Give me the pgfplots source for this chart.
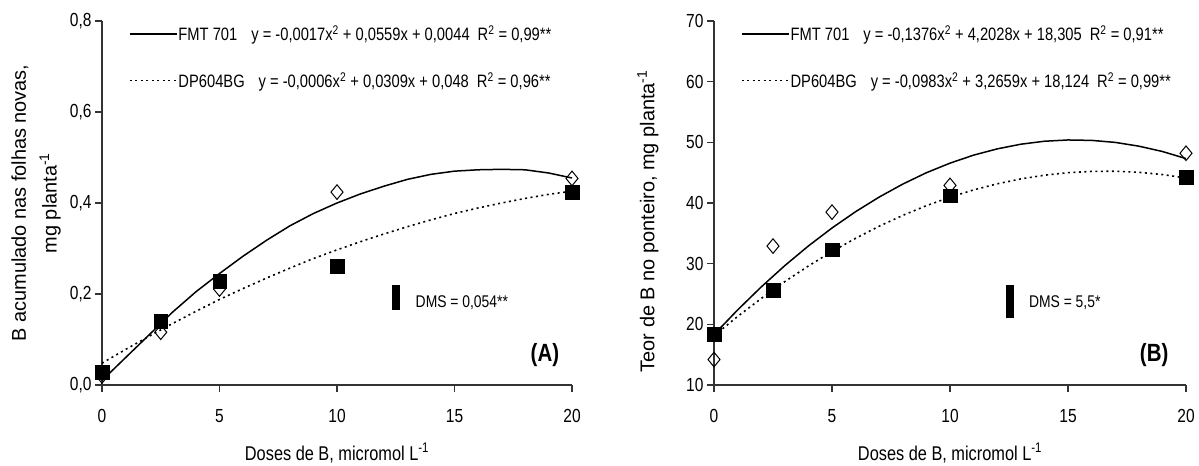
\documentclass[border=0pt]{standalone}
\usepackage{fontspec}
\setmainfont[FakeStretch=0.82]{Liberation Sans}
\newfontfamily\widesans{Liberation Sans}
\usepackage{pgfplots}
\pgfplotsset{compat=1.18}

% shared look of both panels
\pgfplotsset{
  panel/.style={
    scale only axis, anchor=south west, clip=false,
    xmin=0, xmax=20, xtick={0,5,...,20},
    axis x line*=bottom, axis y line*=left,
    axis line style={-, line width=1.3bp, black!80},
    tick style={line width=1.3bp, black!80},
    tick align=outside, major tick length=7bp, tick pos=left,
    tick label style={font=\fontsize{19}{22}\selectfont},
    xticklabel style={yshift=-14bp},
    label style={font=\fontsize{20}{30}\selectfont},
    ylabel style={font=\widesans\fontsize{20}{31}\selectfont},
    /pgf/number format/assume math mode=true,
    xlabel={Doses de B, micromol L\textsuperscript{-1}},
    xlabel style={at={(axis description cs:0.5,-0.15)}, anchor=north},
    legend style={draw=none, fill=none, at={(0.057,0.99)}, anchor=north west,
      inner sep=0pt, font=\fontsize{18}{20}\selectfont, row sep=28bp,
      nodes={inner sep=1bp, anchor=west}},
    legend cell align=left,
    legend image code/.code={\draw[##1, line width=1.5bp] (0bp,0bp) -- (47bp,0bp);},
  },
  fmtline/.style={black, line width=1.5bp},
  dpline/.style={black, line width=1.6bp, dash pattern=on 2bp off 3.5bp},
  fmtmark/.style={only marks, mark=diamond, mark size=7.3bp,
    mark options={fill=white, draw=black, line width=1bp, xscale=1.1}},
  dpmark/.style={only marks, mark=square*, mark size=6.8bp,
    mark options={fill=black, draw=black}},
}

\begin{document}
\begin{tikzpicture}
\useasboundingbox (0,0) rectangle (1199bp,466bp);

% ---------- (A) ----------
\begin{axis}[panel, at={(102bp,81bp)}, width=470bp, height=364bp,
    ymin=0, ymax=0.8, ytick={0,0.2,...,0.8},
    yticklabel style={/pgf/number format/.cd, fixed, fixed zerofill, precision=1, use comma},
    ylabel={B acumulado nas folhas novas,\\ mg planta\textsuperscript{-1}},
    ylabel style={align=center, at={(axis description cs:-0.08,0.5)}, anchor=south}]
\addplot[fmtline] coordinates {(0,0.010)(1,0.060)(2,0.110)(3,0.160)(4,0.205)(5,0.245)
  (6,0.283)(7,0.318)(8,0.350)(9,0.377)(10,0.400)(11,0.420)(12,0.437)(13,0.452)
  (14,0.463)(15,0.470)(16,0.473)(17,0.474)(18,0.473)(19,0.466)(20,0.455)};
\addlegendentry{FMT 701\hspace{14bp}y = -0,0017x\textsuperscript{2} + 0,0559x + 0,0044\hspace{8bp}R\textsuperscript{2} = 0,99**}
\addplot[dpline] coordinates {(0,0.048)(1,0.078)(2,0.107)(3,0.135)(4,0.162)(5,0.188)
  (6,0.212)(7,0.235)(8,0.257)(9,0.278)(10,0.297)(11,0.315)(12,0.332)(13,0.348)
  (14,0.363)(15,0.377)(16,0.389)(17,0.400)(18,0.410)(19,0.419)(20,0.426)};
\addlegendentry{DP604BG\hspace{14bp}y = -0,0006x\textsuperscript{2} + 0,0309x + 0,048\hspace{8bp}R\textsuperscript{2} = 0,96**}
\addplot[fmtmark, forget plot] coordinates {(0,0.020)(2.5,0.116)(5,0.211)(10,0.424)(20,0.454)};
\addplot[dpmark, forget plot] coordinates {(0,0.028)(2.5,0.140)(5,0.228)(10,0.261)(20,0.424)};
\addplot[black, line width=8bp, forget plot] coordinates {(12.5,0.165)(12.5,0.219)};
\node[anchor=west, font=\fontsize{17}{20}\selectfont] at (axis cs:13.2,0.181) {DMS = 0,054**};
\node[anchor=east, font=\bfseries\fontsize{25}{27}\selectfont] at (axis cs:19.6,0.066) {(A)};
\end{axis}

% ---------- (B) ----------
\begin{axis}[panel, at={(714bp,81bp)}, width=472bp, height=364bp,
    ymin=10, ymax=70, ytick={10,20,...,70},
    ylabel={Teor de B no ponteiro, mg planta\textsuperscript{-1}},
    ylabel style={at={(axis description cs:-0.11,0.45)}, anchor=south}]
\addplot[fmtline] coordinates {(0,18.31)(1,22.37)(2,26.16)(3,29.68)(4,32.92)(5,35.88)
  (6,38.57)(7,40.98)(8,43.12)(9,44.99)(10,46.57)(11,47.89)(12,48.92)(13,49.69)
  (14,50.18)(15,50.39)(16,50.32)(17,49.99)(18,49.37)(19,48.49)(20,47.32)};
\addlegendentry{FMT 701\hspace{14bp}y = -0,1376x\textsuperscript{2} + 4,2028x + 18,305\hspace{8bp}R\textsuperscript{2} = 0,91**}
\addplot[dpline] coordinates {(0,18.12)(1,21.29)(2,24.26)(3,27.04)(4,29.62)(5,32.00)
  (6,34.18)(7,36.17)(8,37.96)(9,39.56)(10,40.95)(11,42.16)(12,43.16)(13,43.97)
  (14,44.58)(15,45.00)(16,45.21)(17,45.24)(18,45.06)(19,44.69)(20,44.12)};
\addlegendentry{DP604BG\hspace{14bp}y = -0,0983x\textsuperscript{2} + 3,2659x + 18,124\hspace{8bp}R\textsuperscript{2} = 0,99**}
\addplot[fmtmark, forget plot] coordinates {(0,14.2)(2.5,32.9)(5,38.5)(10,42.9)(20,48.2)};
\addplot[dpmark, forget plot] coordinates {(0,18.4)(2.5,25.6)(5,32.3)(10,41.2)(20,44.3)};
\addplot[black, line width=8bp, forget plot] coordinates {(12.55,21.0)(12.55,26.5)};
\node[anchor=west, font=\fontsize{17}{20}\selectfont] at (axis cs:13.2,23.6) {DMS = 5,5*};
\node[anchor=east, font=\bfseries\fontsize{25}{27}\selectfont] at (axis cs:19.4,15.0) {(B)};
\end{axis}
\end{tikzpicture}
\end{document}
